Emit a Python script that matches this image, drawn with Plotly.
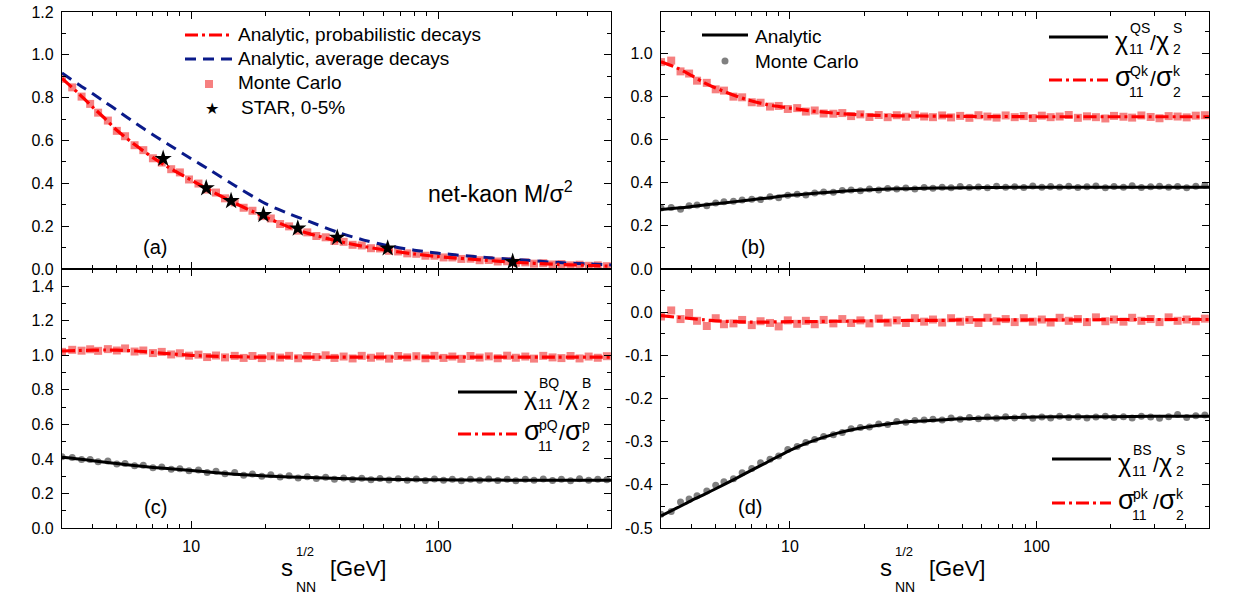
import math
import plotly.graph_objects as go

W, H = 1242, 596
FONT = "Liberation Sans, Arial, sans-serif"

# ---------------- data ----------------
x_line = [3, 3.5, 4, 4.5, 5, 6, 7, 8, 10, 12, 15, 18, 20, 25, 30, 40, 50, 60, 80, 100, 150, 200, 300, 400, 500]

a_prob = [0.89, 0.82, 0.755, 0.70, 0.648, 0.575, 0.52, 0.478, 0.415, 0.365, 0.308, 0.265, 0.242, 0.195, 0.165,
          0.128, 0.105, 0.09, 0.07, 0.058, 0.042, 0.032, 0.022, 0.017, 0.013]
a_avg = [0.915, 0.862, 0.818, 0.778, 0.742, 0.678, 0.627, 0.585, 0.515, 0.46, 0.39, 0.335, 0.305, 0.257, 0.222,
         0.168, 0.135, 0.113, 0.088, 0.074, 0.055, 0.045, 0.031, 0.024, 0.019]

x_mc = [3.0, 3.3, 3.6, 3.9, 4.2, 4.6, 5.0, 5.4, 5.9, 6.4,
        7.0, 7.6, 8.3, 9.0, 9.8, 10.7, 11.6, 12.6, 13.7, 15.0,
        16.3, 17.7, 19.3, 21.0, 22.9, 24.9, 27.1, 29.5, 32.1, 35.0,
        38.0, 41.4, 45.0, 49.0, 53.4, 58.1, 63.2, 68.8, 74.9, 81.5,
        88.7, 96.5, 105, 114, 124, 135, 147, 160, 174, 190,
        206, 225, 244, 266, 290, 315, 343, 373, 406, 442,
        481]

a_mc = [0.888, 0.848, 0.805, 0.771, 0.73, 0.693, 0.645, 0.62, 0.578, 0.555,
        0.517, 0.497, 0.466, 0.451, 0.418, 0.399, 0.371, 0.357, 0.33, 0.311,
        0.286, 0.272, 0.247, 0.236, 0.21, 0.199, 0.179, 0.171, 0.154, 0.148,
        0.131, 0.127, 0.113, 0.11, 0.097, 0.096, 0.085, 0.082, 0.073, 0.071,
        0.062, 0.062, 0.054, 0.054, 0.047, 0.048, 0.041, 0.042, 0.035, 0.036,
        0.029, 0.031, 0.025, 0.027, 0.021, 0.023, 0.017, 0.02, 0.015, 0.017,
        0.013]

x_star = [7.7, 11.5, 14.5, 19.6, 27, 39, 62.4, 200]
a_star = [0.515, 0.378, 0.318, 0.253, 0.19, 0.147, 0.097, 0.034]

b_chi = [0.275, 0.282, 0.289, 0.296, 0.302, 0.312, 0.321, 0.328, 0.341, 0.349, 0.357, 0.363, 0.366, 0.37, 0.372,
         0.375, 0.376, 0.377, 0.378, 0.378, 0.379, 0.379, 0.379, 0.379, 0.379]
b_sig = [0.96, 0.93, 0.895, 0.862, 0.838, 0.802, 0.778, 0.762, 0.745, 0.733, 0.722, 0.716, 0.713, 0.71, 0.709,
         0.708, 0.707, 0.706, 0.706, 0.705, 0.705, 0.705, 0.705, 0.705, 0.705]
b_mc_sig = [0.958, 0.965, 0.915, 0.905, 0.872, 0.862, 0.832, 0.826, 0.798, 0.795,
            0.772, 0.77, 0.752, 0.755, 0.741, 0.745, 0.729, 0.734, 0.72, 0.719,
            0.722, 0.708, 0.716, 0.704, 0.713, 0.703, 0.712, 0.705, 0.714, 0.706,
            0.703, 0.711, 0.702, 0.709, 0.7, 0.712, 0.706, 0.701, 0.711, 0.703,
            0.708, 0.699, 0.71, 0.703, 0.706, 0.713, 0.7, 0.707, 0.703, 0.697,
            0.709, 0.705, 0.701, 0.711, 0.704, 0.698, 0.708, 0.706, 0.702, 0.71,
            0.712]
b_mc_chi = [0.283, 0.285, 0.277, 0.293, 0.296, 0.293, 0.306, 0.311, 0.314, 0.319,
            0.323, 0.322, 0.334, 0.33, 0.342, 0.346, 0.343, 0.352, 0.357, 0.355,
            0.363, 0.366, 0.362, 0.37, 0.366, 0.373, 0.37, 0.375, 0.371, 0.377,
            0.374, 0.379, 0.376, 0.382, 0.377, 0.38, 0.376, 0.383, 0.378, 0.381,
            0.377, 0.384, 0.379, 0.382, 0.378, 0.383, 0.377, 0.381, 0.384, 0.376,
            0.382, 0.379, 0.385, 0.377, 0.381, 0.383, 0.378, 0.382, 0.376, 0.383,
            0.388]

c_chi = [0.41, 0.4, 0.39, 0.381, 0.373, 0.361, 0.351, 0.344, 0.333, 0.323, 0.312, 0.305, 0.301, 0.296, 0.292,
         0.287, 0.284, 0.282, 0.28, 0.279, 0.278, 0.277, 0.277, 0.277, 0.277]
c_sig = [1.025, 1.028, 1.03, 1.031, 1.03, 1.025, 1.017, 1.01, 1.0, 0.995, 0.992, 0.99, 0.99, 0.99, 0.99,
         0.99, 0.99, 0.99, 0.99, 0.99, 0.99, 0.99, 0.99, 0.99, 0.99]
c_mc_sig = [1.02, 1.032, 1.027, 1.035, 1.026, 1.036, 1.028, 1.04, 1.022, 1.028,
            1.013, 1.02, 1.005, 1.012, 0.998, 1.004, 0.99, 0.999, 0.988, 0.997,
            0.985, 0.996, 0.984, 0.995, 0.987, 0.997, 0.983, 0.996, 0.99, 1.0,
            0.985, 0.993, 0.982, 0.997, 0.986, 0.994, 0.981, 0.996, 0.988, 0.995,
            0.983, 0.997, 0.985, 0.993, 0.98, 0.996, 0.987, 0.994, 0.983, 0.998,
            0.986, 0.993, 0.981, 0.997, 0.988, 0.984, 0.996, 0.982, 0.993, 0.986,
            0.995]
c_mc_chi = [0.412, 0.408, 0.396, 0.397, 0.384, 0.388, 0.371, 0.374, 0.36, 0.363,
            0.349, 0.353, 0.34, 0.343, 0.331, 0.336, 0.322, 0.328, 0.314, 0.321,
            0.306, 0.313, 0.3, 0.308, 0.296, 0.302, 0.29, 0.297, 0.286, 0.294,
            0.283, 0.29, 0.281, 0.288, 0.279, 0.287, 0.278, 0.285, 0.276, 0.284,
            0.275, 0.284, 0.276, 0.283, 0.274, 0.282, 0.276, 0.284, 0.275, 0.282,
            0.274, 0.283, 0.276, 0.284, 0.275, 0.282, 0.274, 0.285, 0.276, 0.283,
            0.279]

d_chi = [-0.472, -0.453, -0.436, -0.422, -0.409, -0.386, -0.366, -0.349, -0.32, -0.301, -0.283, -0.272, -0.267,
         -0.259, -0.254, -0.25, -0.247, -0.246, -0.244, -0.243, -0.242, -0.242, -0.241, -0.241, -0.241]
d_sig = [-0.008, -0.012, -0.015, -0.018, -0.02, -0.022, -0.023, -0.023, -0.022, -0.022, -0.021, -0.021, -0.02,
         -0.02, -0.019, -0.019, -0.018, -0.018, -0.018, -0.018, -0.018, -0.017, -0.017, -0.017, -0.017]
d_mc_sig = [-0.01, 0.004, -0.016, -0.002, -0.02, -0.032, -0.014, -0.028, -0.026, -0.018,
            -0.03, -0.021, -0.025, -0.033, -0.019, -0.027, -0.02, -0.028, -0.018, -0.026,
            -0.016, -0.025, -0.019, -0.026, -0.015, -0.024, -0.019, -0.025, -0.014, -0.022,
            -0.017, -0.024, -0.014, -0.022, -0.018, -0.025, -0.013, -0.021, -0.016, -0.023,
            -0.014, -0.022, -0.017, -0.024, -0.013, -0.02, -0.016, -0.023, -0.012, -0.021,
            -0.017, -0.022, -0.013, -0.02, -0.016, -0.023, -0.012, -0.02, -0.017, -0.021,
            -0.015]
d_mc_chi = [-0.468, -0.462, -0.44, -0.433, -0.425, -0.414, -0.401, -0.393, -0.386, -0.372,
            -0.362, -0.349, -0.341, -0.333, -0.318, -0.311, -0.302, -0.295, -0.288, -0.284,
            -0.279, -0.27, -0.267, -0.266, -0.259, -0.26, -0.253, -0.255, -0.251, -0.25,
            -0.248, -0.25, -0.245, -0.248, -0.244, -0.247, -0.243, -0.246, -0.242, -0.245,
            -0.241, -0.246, -0.243, -0.245, -0.241, -0.244, -0.242, -0.245, -0.243, -0.241,
            -0.244, -0.242, -0.245, -0.241, -0.243, -0.246, -0.242, -0.237, -0.244, -0.24,
            -0.238]

X_MAJOR = [10, 100]
X_MINOR = [4, 5, 6, 7, 8, 9, 20, 30, 40, 50, 60, 70, 80, 90, 200, 300, 400]
A_YT = [0.0, 0.2, 0.4, 0.6, 0.8, 1.0, 1.2]
B_YT = [0.0, 0.2, 0.4, 0.6, 0.8, 1.0]
C_YT = [0.0, 0.2, 0.4, 0.6, 0.8, 1.0, 1.2, 1.4]
D_YT = [-0.5, -0.4, -0.3, -0.2, -0.1, 0.0]

# ---------------- styles ----------------
RED = "#ff0000"
NAVY = "#0a1a8a"
PINK = "rgb(246,128,128)"
GRAY = "rgb(128,128,128)"
DASHDOT = "13px,4px,3px,4px"
DASH = "11px,7px"

# panel pixel boxes
PX = {'a': (62, 611, 12, 269), 'b': (661, 1209, 12, 269),
      'c': (62, 611, 269, 528), 'd': (661, 1209, 269, 528)}


def xdom(p):
    return [PX[p][0] / W, PX[p][1] / W]


def ydom(p):
    return [1 - PX[p][3] / H, 1 - PX[p][2] / H]


def xcfg(p, anchor, labels):
    return dict(type='log', domain=xdom(p), anchor=anchor, automargin=False,
                range=[math.log10(3), math.log10(500)],
                tickvals=X_MAJOR, ticktext=[str(v) for v in X_MAJOR], showticklabels=labels,
                ticks='inside', ticklen=7, tickwidth=1.3, tickcolor='black',
                minor=dict(tickvals=X_MINOR, ticks='inside', ticklen=4, tickwidth=1.2,
                           tickcolor='black', showgrid=False),
                showline=True, linecolor='black', linewidth=1.3, mirror='allticks',
                showgrid=False, zeroline=False,
                tickfont=dict(family=FONT, size=16, color='black'), ticklabelstandoff=4)


def ycfg(p, anchor, rng, major, minor):
    return dict(domain=ydom(p), anchor=anchor, range=rng, automargin=False,
                tickvals=major, ticktext=["%.1f" % v for v in major],
                ticks='inside', ticklen=7, tickwidth=1.3, tickcolor='black',
                minor=dict(tickvals=minor, ticks='inside', ticklen=4, tickwidth=1.2,
                           tickcolor='black', showgrid=False),
                showline=True, linecolor='black', linewidth=1.3, mirror='allticks',
                showgrid=False, zeroline=False,
                tickfont=dict(family=FONT, size=16, color='black'), ticklabelstandoff=4)


fig = go.Figure()


def mc(x, y, xa, ya, sym, color, size):
    fig.add_trace(go.Scatter(x=x, y=y, xaxis=xa, yaxis=ya, mode='markers',
                             marker=dict(symbol=sym, size=size, color=color, line=dict(width=0)),
                             showlegend=False, hoverinfo='skip'))


def ln(x, y, xa, ya, color, dash, width=3):
    fig.add_trace(go.Scatter(x=x, y=y, xaxis=xa, yaxis=ya, mode='lines',
                             line=dict(color=color, width=width, dash=dash, shape='spline', smoothing=0.8),
                             showlegend=False, hoverinfo='skip'))


# panel (a)
mc(x_mc, a_mc, 'x', 'y', 'square', PINK, 8)
ln(x_line, a_avg, 'x', 'y', NAVY, DASH, 3)
ln(x_line, a_prob, 'x', 'y', RED, DASHDOT, 3.2)
fig.add_trace(go.Scatter(x=x_star, y=a_star, xaxis='x', yaxis='y', mode='markers',
                         marker=dict(symbol='star', size=13, color='black', line=dict(width=0)),
                         showlegend=False))
# panel (b)
mc(x_mc, b_mc_sig, 'x2', 'y2', 'square', PINK, 8)
mc(x_mc, b_mc_chi, 'x2', 'y2', 'circle', GRAY, 7)
ln(x_line, b_sig, 'x2', 'y2', RED, DASHDOT, 3.2)
ln(x_line, b_chi, 'x2', 'y2', 'black', 'solid', 3)
# panel (c)
mc(x_mc, c_mc_sig, 'x3', 'y3', 'square', PINK, 8)
mc(x_mc, c_mc_chi, 'x3', 'y3', 'circle', GRAY, 7)
ln(x_line, c_sig, 'x3', 'y3', RED, DASHDOT, 3.2)
ln(x_line, c_chi, 'x3', 'y3', 'black', 'solid', 3)
# panel (d)
mc(x_mc, d_mc_sig, 'x4', 'y4', 'square', PINK, 8)
mc(x_mc, d_mc_chi, 'x4', 'y4', 'circle', GRAY, 7)
ln(x_line, d_sig, 'x4', 'y4', RED, DASHDOT, 3.2)
ln(x_line, d_chi, 'x4', 'y4', 'black', 'solid', 3)

ann = []
shapes = []


def T(x, base, text, size, anchor='left', family=FONT, color='black'):
    ann.append(dict(xref='paper', yref='paper', x=x / W, y=1 - (base + 0.212 * size) / H,
                    xanchor=anchor, yanchor='bottom', text=text, showarrow=False,
                    font=dict(family=family, size=size, color=color), borderpad=0, borderwidth=0))


def L(x0, x1, y, color, dash, width=3):
    shapes.append(dict(type='line', xref='paper', yref='paper', x0=x0 / W, x1=x1 / W,
                       y0=1 - y / H, y1=1 - y / H, line=dict(color=color, width=width, dash=dash)))


# ---- legend panel (a)
L(185, 232, 35, RED, DASHDOT, 3.2)
T(238, 40.7, "Analytic, probabilistic decays", 19)
L(185, 232, 59, NAVY, DASH, 3)
T(238, 65, "Analytic, average decays", 19)
shapes.append(dict(type='rect', xref='paper', yref='paper', x0=205 / W, x1=213 / W,
                   y0=1 - 88 / H, y1=1 - 80 / H, fillcolor=PINK, line=dict(width=0)))
T(238, 89.3, "Monte Carlo", 19)
T(212, 115, "\u2605", 16, anchor='center', family="DejaVu Sans")
T(241, 114.3, "STAR, 0-5%", 19)
T(428, 202, "net-kaon M/\u03c3<sup>2</sup>", 23)

# ---- legend panel (b) left
L(702, 748, 35, 'black', 'solid', 3)
T(755, 42.7, "Analytic", 19)
shapes.append(dict(type='circle', xref='paper', yref='paper', x0=721.5 / W, x1=728.5 / W,
                   y0=1 - 64.5 / H, y1=1 - 57.5 / H, fillcolor=GRAY, line=dict(width=0)))
T(755, 67.7, "Monte Carlo", 19)


def ratio(x0, ly, greek, sup1, sup2, color, dash):
    L(x0, x0 + 59, ly, color, dash, 3.2 if dash != 'solid' else 3)
    if greek == '\u03c7':
        gb, gs = ly + 13, 25
    else:
        gb, gs = ly + 6, 27
    T(x0 + 66, gb, greek, gs)
    T(x0 + 81, ly - 4, sup1, 14)
    T(x0 + 80, ly + 17, "11", 14)
    T(x0 + 101, gb, "/", 21)
    T(x0 + 107, gb, greek, gs)
    T(x0 + 124, ly - 4, sup2, 14)
    T(x0 + 124, ly + 17, "2", 14)


ratio(1049, 37, '\u03c7', "QS", "S", 'black', 'solid')
ratio(1049, 80, '\u03c3', "Qk", "k", RED, DASHDOT)
ratio(458, 392, '\u03c7', "BQ", "B", 'black', 'solid')
ratio(458, 434, '\u03c3', "pQ", "p", RED, DASHDOT)
ratio(1052, 459, '\u03c7', "BS", "S", 'black', 'solid')
ratio(1052, 503, '\u03c3', "pk", "k", RED, DASHDOT)

# panel labels
T(155, 254, "(a)", 20, anchor='center')
T(753, 254, "(b)", 20, anchor='center')
T(155, 514, "(c)", 20, anchor='center')
T(750, 514, "(d)", 20, anchor='center')

# x titles
for dx in (0, 598.5):
    T(281 + dx, 576, "s", 24)
    T(296 + dx, 556.5, "1/2", 13)
    T(296 + dx, 592, "NN", 14)
    T(330 + dx, 576, "[GeV]", 22)

fig.update_layout(
    width=W, height=H, margin=dict(l=0, r=0, t=0, b=0, autoexpand=False),
    paper_bgcolor='white', plot_bgcolor='white', showlegend=False,
    font=dict(family=FONT, color='black'),
    xaxis=xcfg('a', 'y', False), yaxis=ycfg('a', 'x', [0, 1.2], A_YT, [0.1, 0.3, 0.5, 0.7, 0.9, 1.1]),
    xaxis2=xcfg('b', 'y2', False), yaxis2=ycfg('b', 'x2', [0, 1.19], B_YT, [0.1, 0.3, 0.5, 0.7, 0.9, 1.1]),
    xaxis3=xcfg('c', 'y3', True), yaxis3=ycfg('c', 'x3', [0, 1.5], C_YT, [0.1, 0.3, 0.5, 0.7, 0.9, 1.1, 1.3]),
    xaxis4=xcfg('d', 'y4', True), yaxis4=ycfg('d', 'x4', [-0.5, 0.1], D_YT,
                                                [-0.45, -0.35, -0.25, -0.15, -0.05, 0.05]),
    annotations=ann, shapes=shapes,
)

fig.write_html("out.html")
